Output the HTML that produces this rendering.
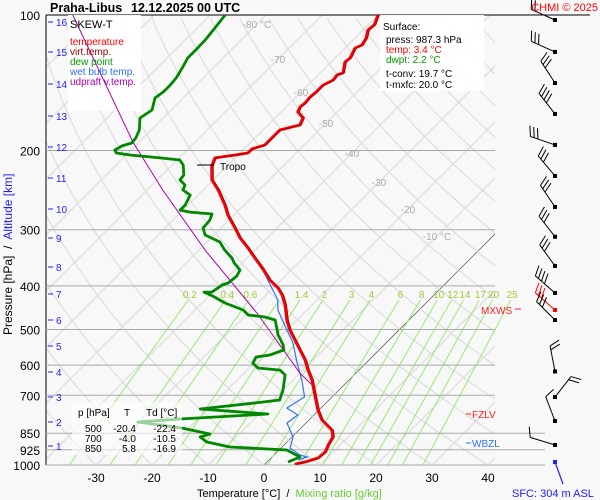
<!DOCTYPE html>
<html><head><meta charset="utf-8"><style>
body{margin:0;background:#f8f8f8;}
svg{display:block;font-family:"Liberation Sans",sans-serif;}
text{white-space:pre;}
</style></head><body>
<svg id="c" width="600" height="500" viewBox="0 0 600 500">
<rect x="0" y="0" width="600" height="500" fill="#f8f8f8"/>
<defs><clipPath id="pc"><rect x="46" y="15" width="449" height="450"/></clipPath>
<clipPath id="mc"><rect x="46" y="15" width="500" height="450"/></clipPath></defs>
<g id="grid" clip-path="url(#pc)"></g>
<g id="mix" clip-path="url(#mc)"></g>
<g id="iso"></g>
<g id="labels"></g>
<rect x="68" y="15" width="73" height="96" fill="#fff" opacity="0.9"/>
<rect x="380" y="15" width="104" height="76" fill="#fff" opacity="0.9"/>
<g id="series" clip-path="url(#pc)"></g>
<rect x="72" y="402" width="110" height="53" fill="#fff" opacity="0.6"/>
<g id="wind"></g>
<g font-size="10">
<text x="70" y="28" font-size="11" fill="#000">SKEW-T</text>
<text x="70" y="45" fill="#ff0000">temperature</text>
<text x="70" y="55" fill="#a00000">virt.temp.</text>
<text x="70" y="65" fill="#009900">dew point</text>
<text x="70" y="75" fill="#3070ff">wet bulb temp.</text>
<text x="70" y="85" fill="#b000b0">udpraft v.temp.</text>
</g>
<g font-size="10">
<text x="383" y="30">Surface:</text>
<text x="386" y="43">press: 987.3 hPa</text>
<text x="386" y="53" fill="#ff0000">temp: 3.4 °C</text>
<text x="386" y="63" fill="#009900">dwpt: 2.2 °C</text>
<text x="386" y="77">t-conv: 19.7 °C</text>
<text x="386" y="88">t-mxfc: 20.0 °C</text>
</g>
<g font-size="10">
<text x="78" y="416">p [hPa]</text><text x="124" y="416">T</text><text x="146" y="416">Td [°C]</text>
<text x="85" y="432">500</text><text x="136" y="432" text-anchor="end">-20.4</text><text x="176" y="432" text-anchor="end">-22.4</text>
<text x="85" y="442">700</text><text x="136" y="442" text-anchor="end">-4.0</text><text x="176" y="442" text-anchor="end">-10.5</text>
<text x="85" y="452">850</text><text x="136" y="452" text-anchor="end">5.8</text><text x="176" y="452" text-anchor="end">-16.9</text>
</g>
<text x="50" y="12" font-size="12.5" font-weight="bold">Praha-Libus</text>
<text x="131" y="12" font-size="12.5" font-weight="bold">12.12.2025 00 UTC</text>
<text x="598" y="11" font-size="11" fill="#ff0000" text-anchor="end">CHMI © 2025</text>
<line x1="197" y1="165" x2="214" y2="165" stroke="#000"/>
<text x="220" y="170" font-size="10">Tropo</text>
<text x="481" y="314" font-size="10" fill="#ff2020">MXWS</text>
<line x1="515" y1="309" x2="521" y2="309" stroke="#ff2020"/>
<line x1="466" y1="414" x2="471" y2="414" stroke="#ff2020"/>
<text x="472" y="418" font-size="10" fill="#ff2020">FZLV</text>
<line x1="466" y1="443" x2="471" y2="443" stroke="#3070ff"/>
<text x="472" y="447" font-size="10" fill="#3070ff">WBZL</text>
<text x="197" y="497" font-size="11">Temperature [°C]  /  <tspan fill="#66cc33">Mixing ratio [g/kg]</tspan></text>
<text x="512" y="497" font-size="11" fill="#2020ff">SFC: 304 m ASL</text>
<text transform="translate(12,335) rotate(-90)" font-size="12">Pressure [hPa]  /  <tspan fill="#2020ff">Altitude [km]</tspan></text>
</svg>
<script>
const tP=[100,105.2,108,112.5,116.6,118.4,124.6,127.2,134.5,135.9,139.5,143.2,145.3,149,152.2,156.8,160.1,164.3,169.4,175.6,177.4,180.1,187.6,194.4,198.5,202.6,204.7,207.8,216.6,232.6,244.8,264.4,278.3,297.4,313,329.5,346.7,365,388.1,404.3,419.1,441,476.2,501.2,527.6,555.3,584.4,615.2,647.5,699,754.6,794.3,836.1,866.6,902.7,935.6,964.7,984.7,995];
const tT=[-60,-58.9,-59.1,-58,-57.5,-58.2,-57.3,-57.5,-55.9,-56.6,-56.4,-57.3,-57.3,-57.3,-57.5,-57.3,-57.5,-57,-55,-54.3,-55.4,-57,-57,-57,-58.6,-58.6,-60.5,-63.6,-62.7,-60.2,-57.3,-53.4,-51.1,-47.5,-44.8,-41.6,-38.6,-35.5,-32,-29.1,-27.1,-24.8,-21.8,-19.5,-16.8,-14.1,-11.4,-9.1,-6.6,-3.4,-0.2,2.3,5.9,7.3,7.9,8.6,8.4,6.8,5.4];
const dP=[100,106.9,113.7,119.6,124.6,131.1,138,143.2,148.3,152.9,162.6,169.4,180.1,187.6,192.5,195.4,199.5,202.6,204.7,207.8,210,215.4,226.8,232.6,238.7,244.8,251.2,264.4,271.3,274.1,276.9,285.5,297.4,308.2,319.5,333,346.7,355.7,368.8,380.2,394,397.6,412.8,412.8,421.3,436.5,452.4,464.2,469,476.2,514.2,541.2,555.3,569.6,575.4,593.5,608.9,615.2,631,681.3,717,724.4,750.7,770.2,790.2,802.4,827.6,853.4,866.6,888.9,912,926.2,959.8,984.7];
const dT=[-87.3,-86.8,-86.4,-86.3,-86.3,-85.5,-84.8,-84.6,-84.6,-85,-83.4,-84.1,-82.1,-81.3,-81.1,-82.3,-82.9,-82.1,-79.3,-73.4,-69.5,-68,-66.1,-65.9,-64.1,-63.6,-61.4,-60.5,-60.5,-58.4,-54.1,-53.4,-53.2,-51.6,-47.7,-45.4,-42.7,-41.4,-39.1,-38.6,-38.9,-39.6,-40.2,-41.6,-39.3,-35.9,-31.4,-29.6,-26.3,-23.9,-20.7,-18,-17,-18.6,-20.7,-20.2,-18.4,-14.1,-12.3,-10,-8.8,-11.4,-21.4,-8.4,-23.2,-30.2,-21.3,-15.2,-16.4,-14.3,-9.3,1.4,5,3.75];
const wP=[338.2,368.8,429.9,452.4,493.6,535.7,593.5,647.5,706.3,746.9,774.2,806.6,866.6,916.7,950.1,959.8,974.7];
const wT=[-40.3,-35,-27,-25.2,-20.8,-16.6,-12.3,-8.4,-4.9,-6.1,-2.9,-3.4,0.2,1.6,4.6,6.3,5.2];
const uP=[100,191.5,244.8,333,459.5,624.7,674.5];
const uT=[-114.5,-81.1,-67.2,-48.9,-28.4,-10,-4.6];
const windP=[102.6,120.8,141.6,165.9,194.4,227.9,267,311,361.1,414.7,452.4,476.2,619.6,706.3,798.4,902.7];
const windDir=[294,294,327,322,289,320,326,322,324,311,311,315,349,38,339,287];
const windBarbs=[2,3,3,4,3,3,3,3,3,4,3,3,2,2,1,1];
const pLevels=[200,300,400,500,600,700,850,925,1000];
const kmLabels=[1,2,3,4,5,6,7,8,9,10,11,12,13,14,15,16];
const kmY=[446,422,397,372,346,320,294,267,238,209,178,147,116,84,52,22];
const tempTicks=[-30,-20,-10,0,10,20,30,40];
const mixRatios=[0.2,0.4,0.6,1,1.4,2,3,4,6,8,10,12,14,17,20,25];
const isoLabels=[-80,-70,-60,-50,-40,-30,-20,-10];

const NS="http://www.w3.org/2000/svg";
function Y(p){return 15+450*Math.log10(p/100);}
function X(T,p){return 264+5.6*T+(465-Y(p));}
function mk(tag,attrs,parent){const e=document.createElementNS(NS,tag);for(const k in attrs)e.setAttribute(k,attrs[k]);parent.appendChild(e);return e;}
const grid=document.getElementById('grid'),mix=document.getElementById('mix'),iso=document.getElementById('iso'),lab=document.getElementById('labels'),ser=document.getElementById('series'),wind=document.getElementById('wind');
for(let T=-140;T<=40;T+=10){const l=mk('line',{x1:X(T,1000),y1:465,x2:X(T,100),y2:15,stroke:T===0?'#666':'#d8d8d8','stroke-width':T===0?0.8:1},grid);

}
for(let th=-40;th<=220;th+=10){let d='';for(let p=1000;p>=100;p*=0.97){d+=(d?'L':'M')+X((th+273.15)*Math.pow(p/1000,0.2857)-273.15,p).toFixed(1)+','+Y(p).toFixed(1);}
const a=mk('path',{d:d,fill:'none',stroke:'#d8d8d8','stroke-width':1},grid);

}
function tdw(w,p){const e=w*p/(622+w);const l=Math.log(e/6.112);return 243.5*l/(17.67-l);}
mixRatios.forEach(w=>{const m=mk('line',{x1:X(tdw(w,1000),1000),y1:465,x2:X(tdw(w,430),430),y2:Y(430),stroke:'#9be870','stroke-width':1},mix);


if(w!==1){const t=mk('text',{x:X(tdw(w,425),425),y:298,'font-size':10,fill:'#99cc33','text-anchor':'middle'},lab);t.textContent=w;

}});
mk('line',{x1:46,y1:15,x2:590,y2:15,stroke:'#000'},iso);
mk('line',{x1:46,y1:15,x2:46,y2:465,stroke:'#000'},iso);
pLevels.forEach(p=>{const y=Y(p);const l=mk('line',{x1:46,y1:y,x2:p>=850?545:495,y2:y,stroke:'#aaa'},iso);

});
[100].concat(pLevels).forEach(p=>{const t=mk('text',{x:40,y:Y(p)+5,'font-size':12,'text-anchor':'end'},lab);t.textContent=p;

});
kmLabels.forEach((k,i)=>{mk('line',{x1:48,y1:kmY[i],x2:53,y2:kmY[i],stroke:'#2020ff'},lab);const t=mk('text',{x:56,y:kmY[i]+4,'font-size':10,fill:'#2020ff'},lab);t.textContent=k;

});
tempTicks.forEach(T=>{const t=mk('text',{x:X(T,1000),y:482,'font-size':12,'text-anchor':'middle'},lab);t.textContent=T;

});
isoLabels.forEach((T,i)=>{const yy=[28,63,96,127,157,186,213,240][i];
const t=mk('text',{x:264+5.6*T+(465-yy)+4,y:yy,'font-size':10,fill:'#aaa','text-anchor':'middle'},lab);t.textContent=(T===-80||T===-10)?T+' °C':T;

});
function path(P,T,dx){return P.map((p,i)=>(i?'L':'M')+(X(T[i],p)+(dx||0)).toFixed(1)+','+Y(p).toFixed(1)).join('');}
let s;
s=mk('path',{d:path(tP,tT,-1),fill:'none',stroke:'#3070ff','stroke-width':1.2},ser);


s=mk('path',{d:path(wP,wT),fill:'none',stroke:'#3070ff','stroke-width':1.2},ser);


s=mk('path',{d:path(uP,uT),fill:'none',stroke:'#b000b0','stroke-width':1},ser);


s=mk('path',{d:path(dP,dT),fill:'none',stroke:'#008800','stroke-width':2.8,'stroke-linejoin':'round'},ser);


s=mk('path',{d:path(tP,tT),fill:'none',stroke:'#ff0000','stroke-width':2.8,'stroke-linejoin':'round'},ser);


s=mk('path',{d:path(tP,tT,1.5),fill:'none',stroke:'#a00000','stroke-width':0.8},ser);


windP.forEach((p,i)=>{const y=Y(p),x=555,a=windDir[i]*Math.PI/180;const ux=Math.sin(a),uy=-Math.cos(a);const L=26;
const col=i===10?'#ff0000':'#000';const g=mk('g',{stroke:col,'stroke-width':1,fill:'none'},wind);


const ex=x+ux*L,ey=y+uy*L;mk('line',{x1:x,y1:y,x2:ex,y2:ey},g);
const px=-uy,py=ux;for(let b=0;b<windBarbs[i];b++){const bx=ex-ux*b*4,by=ey-uy*b*4;mk('line',{x1:bx,y1:by,x2:bx+px*10+ux*4,y2:by+py*10+uy*4},g);}
mk('rect',{x:x-2,y:y-2,width:4,height:4,fill:col,stroke:'none'},g);});
mk('line',{x1:555,y1:462,x2:563,y2:484,stroke:'#2020ff','stroke-width':1.2},wind);
mk('rect',{x:553,y:460,width:4,height:4,fill:'#2020ff'},wind);
</script>
</body></html>
